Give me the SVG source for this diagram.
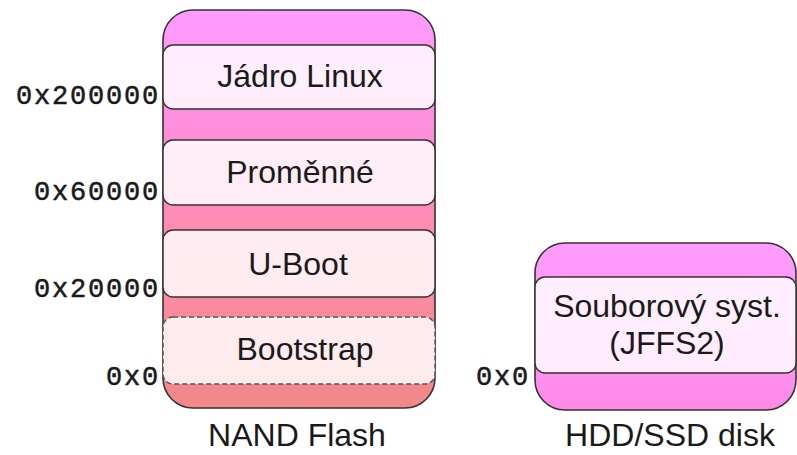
<svg xmlns="http://www.w3.org/2000/svg" width="797" height="455" viewBox="0 0 797 455">
<defs>
<linearGradient id="nandGrad" x1="0" y1="0" x2="0" y2="1">
<stop offset="0" stop-color="#ff9cff"/>
<stop offset="0.3" stop-color="#ff8edc"/>
<stop offset="0.55" stop-color="#ff8cb0"/>
<stop offset="1" stop-color="#f28888"/>
</linearGradient>
<linearGradient id="diskGrad" x1="0" y1="0" x2="0" y2="1">
<stop offset="0" stop-color="#ff9cff"/>
<stop offset="1" stop-color="#ff8ae8"/>
</linearGradient>
<style>
.outer{stroke:#333;stroke-width:1.6}
.part{fill:#ffffff;fill-opacity:0.84;stroke:#333;stroke-width:1.4}
.dash{stroke-dasharray:5 3;stroke:#555}
.lbl{font-family:"Liberation Sans",Arial,sans-serif;font-size:32px;fill:#1a1a1a;text-anchor:middle}
.addr{font-family:"Liberation Mono","Courier New",monospace;font-size:27px;fill:#1a1a1a;stroke:#1a1a1a;stroke-width:0.5;text-anchor:end;letter-spacing:1.8px}
</style>
</defs>
<g id="nand">
<rect class="outer" x="163" y="10" width="272" height="398" rx="30" ry="30" fill="url(#nandGrad)"/>
<text class="lbl" x="297" y="446">NAND Flash</text>
</g>
<g id="jadro">
<rect class="part" x="163" y="45" width="272" height="64" rx="10" ry="10"/>
<text class="lbl" x="300" y="87">Jádro Linux</text>
</g>
<g id="promenne">
<rect class="part" x="163" y="140" width="272" height="65" rx="10" ry="10"/>
<text class="lbl" x="300" y="183">Proměnné</text>
</g>
<g id="uboot">
<rect class="part" x="163" y="230" width="272" height="67" rx="10" ry="10"/>
<text class="lbl" x="298" y="275">U-Boot</text>
</g>
<g id="bootstrap">
<rect class="part dash" x="163" y="317" width="272" height="67" rx="10" ry="10"/>
<text class="lbl" x="305" y="360">Bootstrap</text>
</g>
<g id="disk">
<rect class="outer" x="535" y="243" width="261" height="167" rx="30" ry="30" fill="url(#diskGrad)"/>
<text class="lbl" x="670" y="446">HDD/SSD disk</text>
</g>
<g id="fs">
<rect class="part" x="535" y="277" width="261" height="96" rx="10" ry="10"/>
<text class="lbl" x="667" y="317">Souborový syst.</text>
<text class="lbl" x="667" y="354">(JFFS2)</text>
</g>
<g id="addresses">
<text class="addr" x="160" y="104">0x200000</text>
<text class="addr" x="160" y="200">0x60000</text>
<text class="addr" x="160" y="297">0x20000</text>
<text class="addr" x="160" y="385">0x0</text>
<text class="addr" x="530" y="385">0x0</text>
</g>
<g id="connectors"/>
</svg>
